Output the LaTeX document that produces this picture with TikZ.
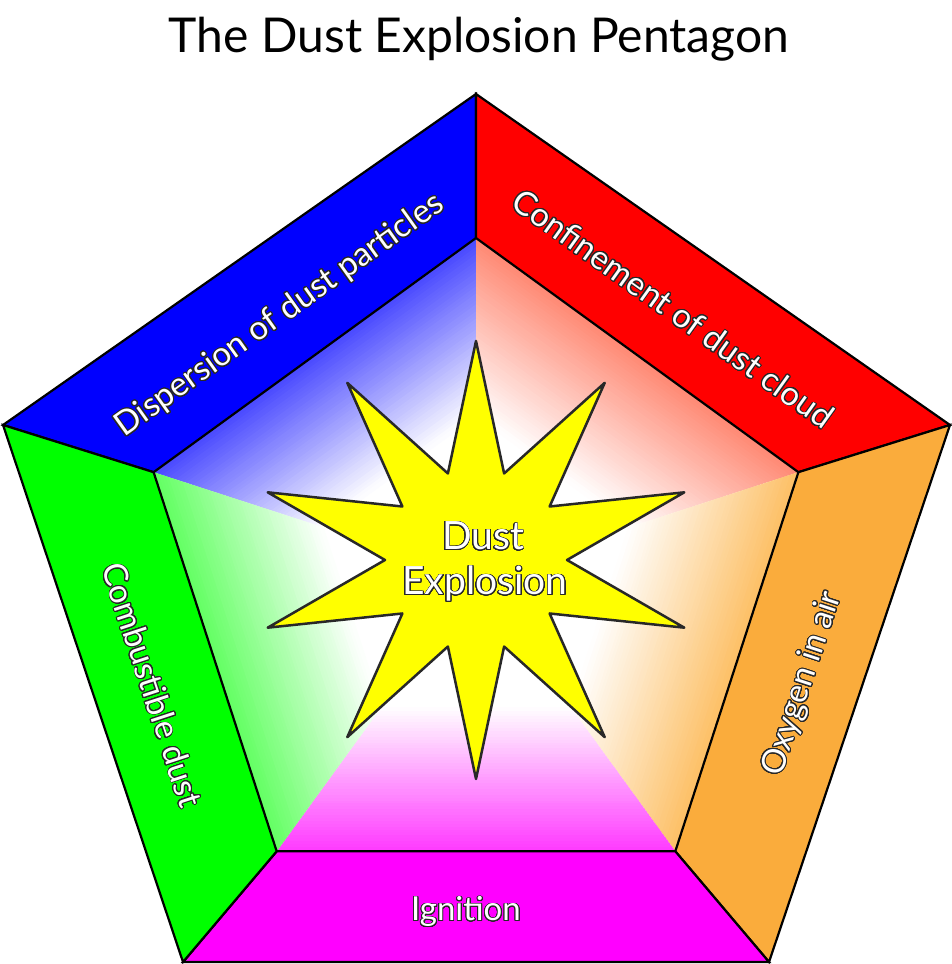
\documentclass[tikz,border=0pt]{standalone}
\usepackage{fontspec}
\setmainfont{Lato}
\usepackage{contour}
\contourlength{0.9pt}
\contournumber{32}
\usetikzlibrary{calc}
\definecolor{cblue}{RGB}{0,0,255}
\definecolor{cred}{RGB}{255,0,0}
\definecolor{corange}{RGB}{250,172,60}
\definecolor{cmag}{RGB}{255,0,255}
\definecolor{cgreen}{RGB}{0,255,0}
\definecolor{cyel}{RGB}{255,255,0}
\definecolor{gredge}{RGB}{255,90,60}
\definecolor{gorange}{RGB}{252,170,50}
\definecolor{outl}{RGB}{40,40,40}
\newcommand\gradtri[5]{%
  \begin{scope}
    \clip (C) -- (#1) -- (#2) -- cycle;
    \begin{scope}[shift={($(#1)!0.5!(#2)$)}, rotate=#4]
      \foreach \i in {0,...,49}{%
        \pgfmathtruncatemacro\p{#5*(1-\i/50)}%
        \fill[#3!\p!white] (-420,{\i*2.9-1.5}) rectangle (420,{\i*2.9+2.6});
      }
    \end{scope}
  \end{scope}}
\begin{document}
\begin{tikzpicture}[x=1pt,y=1pt,
  band/.style={draw=black, line width=2.2pt, line join=miter},
  lbl/.style={text=white, font=\fontsize{33}{38}\selectfont, inner sep=0pt},
  biglbl/.style={text=white, font=\fontsize{39}{45}\selectfont, inner sep=0pt, anchor=base},
  starstyle/.style={fill=cyel, draw=outl, line width=2.5pt, line join=round}]
\useasboundingbox (0,0) rectangle (952,964);
\fill[white] (0,0) rectangle (952,964);
% geometry (y up)
\coordinate (C) at (476,387);
\coordinate (OT) at (476,870);
\coordinate (OR) at (950,539);
\coordinate (OBR) at (769,2);
\coordinate (OBL) at (183,2);
\coordinate (OL) at (3,539);
\coordinate (IT) at (476,726);
\coordinate (IR) at (798.4,491.8);
\coordinate (IBR) at (675.3,112.7);
\coordinate (IBL) at (276.7,112.7);
\coordinate (IL) at (153.6,491.8);
% gradient triangles
\gradtri{IL}{IT}{cblue}{-144}{72}
\gradtri{IT}{IR}{gredge}{144}{72}
\gradtri{IR}{IBR}{gorange}{72}{75}
\gradtri{IBR}{IBL}{cmag}{0}{78}
\gradtri{IBL}{IL}{cgreen}{-72}{62}
% bands
\filldraw[band, fill=cblue] (OL) -- (OT) -- (IT) -- (IL) -- cycle;
\filldraw[band, fill=cred] (OT) -- (OR) -- (IR) -- (IT) -- cycle;
\filldraw[band, fill=corange] (OR) -- (OBR) -- (IBR) -- (IR) -- cycle;
\filldraw[band, fill=cmag] (OBR) -- (OBL) -- (IBL) -- (IBR) -- cycle;
\filldraw[band, fill=cgreen] (OBL) -- (OL) -- (IL) -- (IBL) -- cycle;
% star
\begin{scope}[shift={(476,404)}]
\draw[starstyle] (90:219) \foreach \a in {108,144,...,432}{ -- (\a:91) -- ({\a+18}:219) } -- cycle;
\end{scope}
% title
\node[font=\fontsize{48}{56}\selectfont, inner sep=0pt, anchor=base] (title) at (479,911) {The Dust Explosion Pentagon};
% labels
\node[lbl, rotate=35.5] (disp) at (280,648) {\contour{outl}{Dispersion of dust particles}};
\node[lbl, rotate=-35.5] (conf) at (673,655) {\contour{outl}{Confinement of dust cloud}};
\node[lbl, rotate=71.7] (oxy) at (803,280) {\contour{outl}{Oxygen in air}};
\node[lbl, rotate=-71.7] (comb) at (152,279) {\contour{outl}{Combustible dust}};
\node[lbl, anchor=base] (ign) at (466,43) {\contour{outl}{Ignition}};
\node[biglbl] (dust) at (483,414) {\contour{outl}{Dust}};
\node[biglbl] (expl) at (485,369) {\contour{outl}{Explosion}};
\end{tikzpicture}
\end{document}
